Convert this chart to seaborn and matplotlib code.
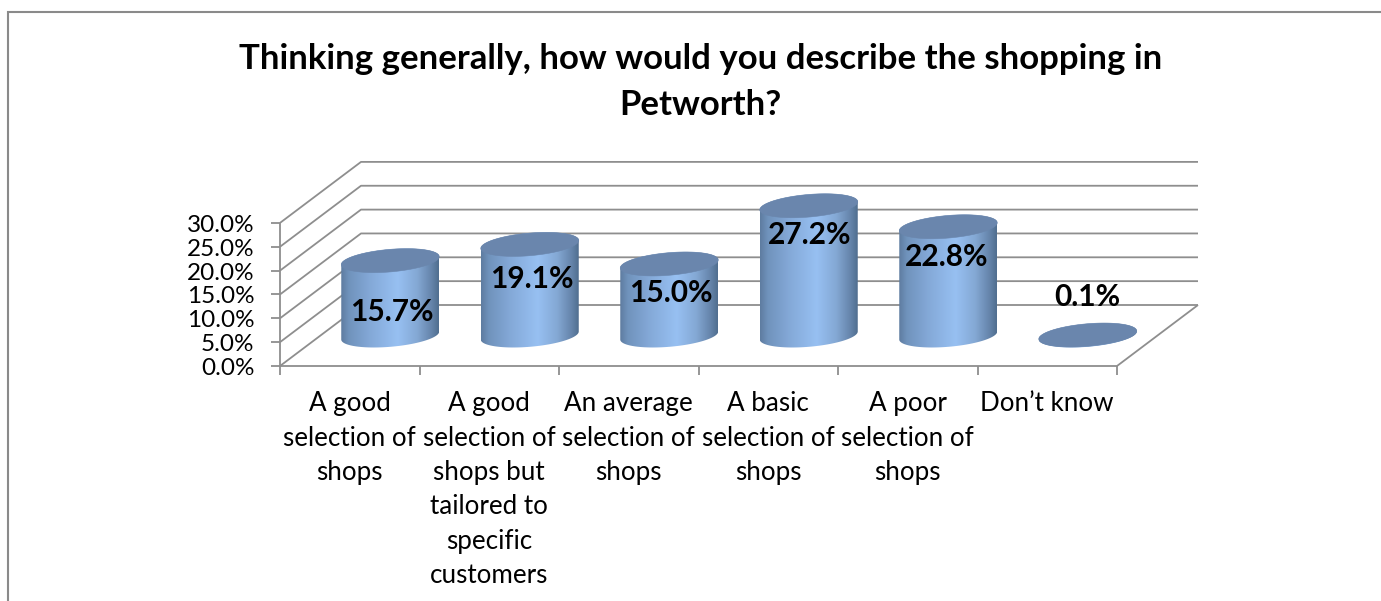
import numpy as np
import matplotlib
matplotlib.use("Agg")
import matplotlib.pyplot as plt
from matplotlib.colors import LinearSegmentedColormap
from matplotlib.lines import Line2D
from matplotlib.patches import Polygon
from matplotlib.transforms import Affine2D
import seaborn as sns

# Survey responses, percent of respondents
categories = [
    "A good\nselection of\nshops",
    "A good\nselection of\nshops but\ntailored to\nspecific\ncustomers",
    "An average\nselection of\nshops",
    "A basic\nselection of\nshops",
    "A poor\nselection of\nshops",
    "Don\u2019t know",
]
values = [15.7, 19.1, 15.0, 27.2, 22.8, 0.1]
value_ticks = [0, 5, 10, 15, 20, 25, 30]
title = "Thinking generally, how would you describe the shopping in\nPetworth?"

sns.set_theme(style="white")
plt.rcParams["font.family"] = ["Lato", "DejaVu Sans"]

W, H = 1381, 601
fig = plt.figure(figsize=(W / 100, H / 100), dpi=100, facecolor="white")

# The axes is the mid-depth plane of the box the cylinders stand in
PX_LEFT, PX_RIGHT, PX_BASE, PX_TOP = 320.5, 1157.5, 335.5, 192.4
ax = fig.add_axes([PX_LEFT / W, 1 - PX_BASE / H,
                   (PX_RIGHT - PX_LEFT) / W, (PX_BASE - PX_TOP) / H])

sns.barplot(x=categories, y=values, width=0.7025, color="#7FA3D0", ax=ax,
            saturation=1, legend=False)
ax.set_xlim(-0.5, 5.5)
ax.set_ylim(0, 30)
ax.set_xlabel("")
ax.set_ylabel("")
ax.patch.set_alpha(0)
sns.despine(ax=ax, left=True, bottom=True, top=True, right=True)

px_x = (PX_RIGHT - PX_LEFT) / 6
px_y = (PX_BASE - PX_TOP) / 30
DEPTH_X = 40.5 / px_x
DEPTH_Y = 30.5 / px_y

# Box outline: back wall, side wall, floor and outer tick marks
GRID = "#8E8E8E"
LW = 1.3
left, right = -0.5, 5.5
line_style = dict(color=GRID, lw=LW, clip_on=False, zorder=1, solid_capstyle="butt")
for v in value_ticks:
    ax.plot([left - DEPTH_X, left + DEPTH_X, right + DEPTH_X],
            [v - DEPTH_Y, v + DEPTH_Y, v + DEPTH_Y], **line_style)
    ax.plot([left - DEPTH_X - 9 / px_x, left - DEPTH_X],
            [v - DEPTH_Y, v - DEPTH_Y], **line_style)
ax.plot([left - DEPTH_X, left - DEPTH_X], [-DEPTH_Y, 30 - DEPTH_Y], **line_style)
ax.plot([left - DEPTH_X, right - DEPTH_X, right + DEPTH_X],
        [-DEPTH_Y, -DEPTH_Y, DEPTH_Y], **line_style)
for edge in np.arange(left, right + 0.5):
    ax.plot([edge - DEPTH_X, edge - DEPTH_X],
            [-DEPTH_Y, -DEPTH_Y - 9 / px_y], **line_style)

# Cylinder shading across the width of each bar
shade = LinearSegmentedColormap.from_list(
    "cylinder",
    [(0.00, "#5E7CA0"), (0.08, "#7093BC"), (0.30, "#84A9D8"), (0.58, "#97C0F2"),
     (0.78, "#84A8D4"), (0.93, "#6483A9"), (1.00, "#506E8F")],
)
gradient = np.linspace(0, 1, 256).reshape(1, -1)
CAP = "#6A86AD"
CAP_B = 11.3 / px_y   # half depth of the ellipse
CAP_S = 4.0 / px_y    # tilt of the ellipse

t = np.linspace(0, 2 * np.pi, 181)
for bar in ax.patches:
    half = bar.get_width() / 2
    cx = bar.get_x() + half
    top = bar.get_height()
    bar.set_facecolor("none")
    bar.set_edgecolor("none")

    ex = cx + half * np.cos(t)
    ey = CAP_S * np.cos(t) + CAP_B * np.sin(t)

    # Side wall: upper half of the top rim, then lower half of the base rim
    lower = np.pi <= t
    upper = ~lower
    body_x = np.r_[ex[upper][::-1], ex[lower][::-1]]
    body_y = np.r_[(ey + top)[upper][::-1], ey[lower][::-1]]
    body = Polygon(np.c_[body_x, body_y], closed=True, transform=ax.transData,
                   facecolor="none", edgecolor="none")
    im = ax.imshow(gradient, extent=(cx - half, cx + half, -4, top + 4),
                   aspect="auto", cmap=shade, vmin=0, vmax=1,
                   interpolation="bilinear", zorder=3)
    im.set_clip_box(fig.bbox)
    im.set_clip_path(body)

    ax.add_patch(Polygon(np.c_[ex, ey + top], closed=True, facecolor=CAP,
                         edgecolor=CAP, lw=0.4, clip_on=False, zorder=4))

ax.set_xlim(-0.5, 5.5)
ax.set_ylim(0, 30)

# Data labels, nudged clear of the cylinder tops as in the source layout
label_shift_px = [(2, -51), (2, -35), (2, -29), (1, -29), (-2, -30), (0, 38)]
for i, (v, (sx, sy)) in enumerate(zip(values, label_shift_px)):
    ax.annotate(f"{v:.1f}%", xy=(i, v), xytext=(sx * 0.72, sy * 0.72),
                textcoords="offset points", ha="center", va="center",
                fontsize=21.5, fontweight="bold", color="black",
                annotation_clip=False, zorder=6)

# Axis labels sit on the front plane of the box
ax.set_yticks(value_ticks)
ax.set_yticklabels([f"{v:.1f}%" for v in value_ticks])
ax.tick_params(axis="y", length=0, pad=47.5, labelsize=17.5, labelcolor="black")
for lab in ax.get_yticklabels():
    lab.set_transform(lab.get_transform() + Affine2D().translate(0, -31))

ax.set_xticks(range(len(categories)))
ax.set_xticklabels(categories, linespacing=1.465)
ax.tick_params(axis="x", length=0, pad=40.3, labelsize=18.7, labelcolor="black")
for lab in ax.get_xticklabels():
    lab.set_transform(lab.get_transform() + Affine2D().translate(-40.5, 0))

fig.text(700.5 / W, 1 - 82 / H, title, ha="center", va="center",
         fontsize=25, fontweight="bold", color="black", linespacing=1.53)

# Chart area border, cut off by the right and bottom of the canvas
frame = "#8A8A8A"
fig.add_artist(Line2D([8 / W, 8 / W, 1], [0, 1 - 12 / H, 1 - 12 / H],
                      transform=fig.transFigure, color=frame, lw=1.5,
                      solid_joinstyle="miter"))

fig.savefig("out.png", dpi=100, facecolor="white")
